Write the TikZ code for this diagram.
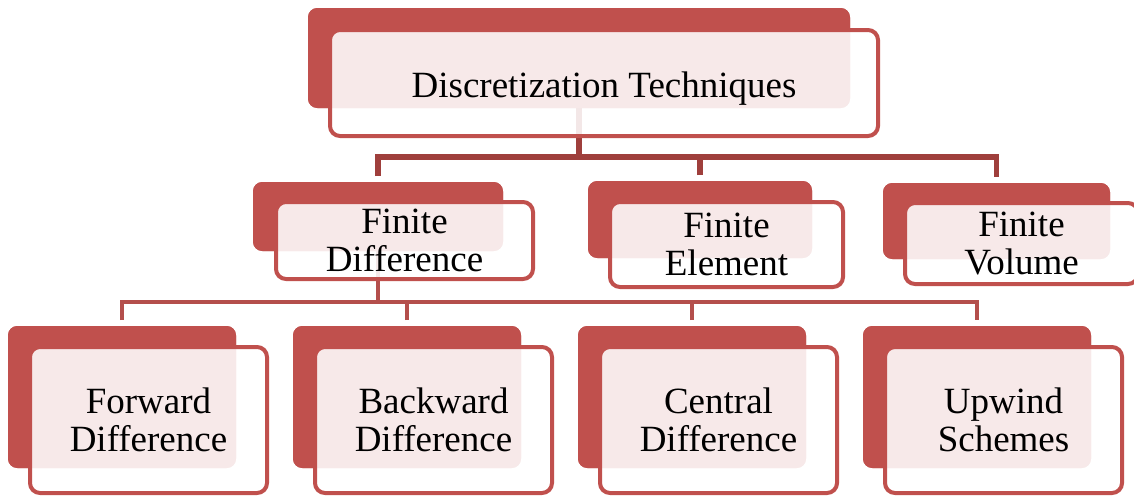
\documentclass[tikz,border=0pt]{standalone}
\usepackage{fontspec}
\setmainfont{Liberation Serif}
\definecolor{accent}{HTML}{C0504D}
\definecolor{linkA}{HTML}{9F3F3C}
\definecolor{linkB}{HTML}{B44F4C}
\tikzset{
  backbox/.style={anchor=north west, fill=accent, rounded corners=7pt,
    inner sep=0pt, outer sep=0pt, draw=none},
  frontbox/.style={anchor=north west, draw=accent, line width=3pt,
    fill=white, fill opacity=0.88, text opacity=1, rounded corners=7.5pt,
    inner sep=0pt, outer sep=0pt, align=center, text=black,
    font=\fontsize{27.75}{28}\selectfont},
  connA/.style={draw=linkA, line width=3.8pt},
  connB/.style={draw=linkB, line width=3.3pt},
}
\begin{document}
\begin{tikzpicture}[x=0.75pt, y=-0.75pt]
\clip (0,0) rectangle (1134,496);
\fill[white] (0,0) rectangle (1134,496);

% back plates (named so the connectors can hang from them)
\path
  (308,8)   node[backbox, minimum width=542*0.75pt, minimum height=100*0.75pt] (topb) {}
  (253,182) node[backbox, minimum width=250*0.75pt, minimum height=69*0.75pt] (fdb) {}
  (588,181) node[backbox, minimum width=224*0.75pt, minimum height=77*0.75pt] (feb) {}
  (883,183) node[backbox, minimum width=227*0.75pt, minimum height=76*0.75pt] (fvb) {}
  (8,326)   node[backbox, minimum width=228*0.75pt, minimum height=142*0.75pt] (fwb) {}
  (293,326) node[backbox, minimum width=228*0.75pt, minimum height=142*0.75pt] (bwb) {}
  (578,326) node[backbox, minimum width=228*0.75pt, minimum height=142*0.75pt] (ctb) {}
  (863,326) node[backbox, minimum width=228*0.75pt, minimum height=142*0.75pt] (upb) {};

% junction points of the two bars
\coordinate (hub1) at (topb.center |- 0,157);
\coordinate (hub2) at (fdb.center |- 0,302);

% connectors
\path[connA] (topb.center) -- (hub1);
\path[connA] ([yshift=4.5pt]fdb.north) |- (hub1) -| ([yshift=4.5pt]fvb.north);
\path[connA] ([yshift=4.5pt]feb.north) -- (feb.north |- hub1);
\path[connB] (fdb.center) -- (hub2);
\path[connB] ([yshift=4.5pt]fwb.north) |- (hub2) -| ([yshift=4.5pt]upb.north);
\path[connB] ([yshift=4.5pt]bwb.north) -- (bwb.north |- hub2);
\path[connB] ([yshift=4.5pt]ctb.north) -- (ctb.north |- hub2);

% repaint the plates so the connectors start behind them
\foreach \n in {topb,fdb,feb,fvb,fwb,bwb,ctb,upb}{
  \fill[accent, rounded corners=7pt] (\n.north west) rectangle (\n.south east);
}

% front cards carrying the labels
\path
  (330,30)  node[frontbox, minimum width=548*0.75pt, minimum height=106*0.75pt] (top) {\raisebox{-4pt}[\height][\depth]{Discretization Techniques}}
  (276,202) node[frontbox, minimum width=257*0.75pt, minimum height=77*0.75pt] (fd) {Finite\\Difference}
  (610,202) node[frontbox, minimum width=233*0.75pt, minimum height=85*0.75pt] (fe) {Finite\\Element}
  (905,203) node[frontbox, minimum width=233*0.75pt, minimum height=81*0.75pt] (fv) {Finite\\Volume}
  (30,347)  node[frontbox, minimum width=237*0.75pt, minimum height=146*0.75pt] (fw) {Forward\\Difference}
  (315,347) node[frontbox, minimum width=237*0.75pt, minimum height=146*0.75pt] (bw) {Backward\\Difference}
  (600,347) node[frontbox, minimum width=237*0.75pt, minimum height=146*0.75pt] (ct) {Central\\Difference}
  (885,347) node[frontbox, minimum width=237*0.75pt, minimum height=146*0.75pt] (up) {Upwind\\Schemes};
\end{tikzpicture}
\end{document}
